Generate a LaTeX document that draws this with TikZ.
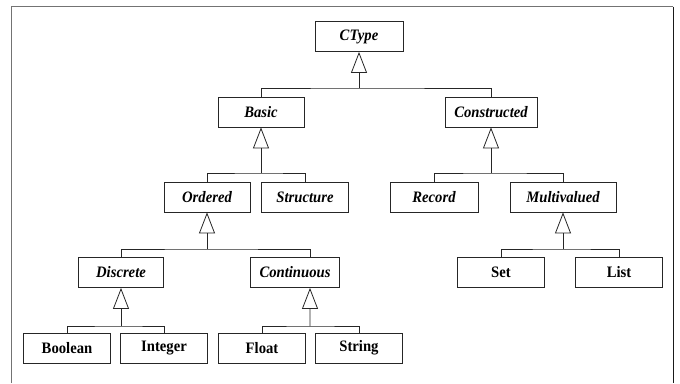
\documentclass[tikz,border=0pt]{standalone}
\usepackage{fontspec}
\setmainfont{Liberation Serif}
\newfontfamily\lblfont[FakeStretch=0.92]{Liberation Serif}
\usetikzlibrary{arrows.meta}
\tikzset{
  cls/.style={draw=black!85, line width=0.8bp, fill=white, minimum height=30bp, inner sep=0pt,
    font=\lblfont\fontsize{16}{18}\selectfont\bfseries\itshape, text=black},
  conc/.style={cls, font=\lblfont\fontsize{16}{18}\selectfont\bfseries},
  tree/.style={draw=black!85, line width=0.8bp},
  inh/.style={tree, -{Triangle[open, width=16bp, length=21bp, line width=0.8bp]}},
}
\begin{document}
\begin{tikzpicture}[x=1bp, y=-1bp]
\useasboundingbox (0,0) rectangle (680,383);
% frame
\draw[black!55, line width=1bp] (11,383) -- (11,6.5) -- (673,6.5);
\draw[black!90, line width=1bp] (673,6.5) -- (673,383);
% nodes
\node[cls, minimum width=88bp] (ctype) at (359,36.5) {CType};
\node[cls, minimum width=86bp] (basic) at (261,112) {Basic};
\node[cls, minimum width=92bp] (constructed) at (491,112) {Constructed};
\node[cls, minimum width=86bp] (ordered) at (207,197) {Ordered};
\node[cls, minimum width=87bp] (structure) at (305,197) {Structure};
\node[cls, minimum width=88bp] (record) at (434,197) {Record};
\node[cls, minimum width=106bp] (multi) at (563,197) {Multivalued};
\node[cls, minimum width=85bp] (discrete) at (121,272.5) {Discrete};
\node[cls, minimum width=89bp] (continuous) at (295,272.5) {Continuous};
\node[conc, minimum width=87bp] (set) at (501,272.5) {Set};
\node[conc, minimum width=87bp] (list) at (619,272.5) {List};
\node[conc, minimum width=87bp] (boolean) at (67,348) {Boolean};
\node[conc, minimum width=87bp] (integer) at (164,348) {Integer};
\node[conc, minimum width=87bp] (float) at (262,348) {Float};
\node[conc, minimum width=87bp] (string) at (359,348) {String};
% junctions
\coordinate (j1) at (359,88);
\coordinate (j2) at (261,173);
\coordinate (j3) at (491,173);
\coordinate (j4) at (207,249);
\coordinate (j5) at (563,249);
\coordinate (j6) at (121,326);
\coordinate (j7) at (310,326);
% trees
\draw[tree] (basic.north) |- (j1) -| (constructed.north);
\draw[inh] (j1) -- (ctype.south);
\draw[tree] (ordered.north) |- (j2) -| (structure.north);
\draw[inh] (j2) -- (basic.south);
\draw[tree] (record.north) |- (j3) -| (multi.north);
\draw[inh] (j3) -- (constructed.south);
\draw[tree] (discrete.north) |- (j4) -| ([xshift=15bp]continuous.north);
\draw[inh] (j4) -- (ordered.south);
\draw[tree] (set.north) |- (j5) -| (list.north);
\draw[inh] (j5) -- (multi.south);
\draw[tree] (boolean.north) |- (j6) -| (integer.north);
\draw[inh] (j6) -- (discrete.south);
\draw[tree] (float.north) |- (j7) -| (string.north);
\draw[inh] (j7) -- ([xshift=15bp]continuous.south);
\end{tikzpicture}
\end{document}
